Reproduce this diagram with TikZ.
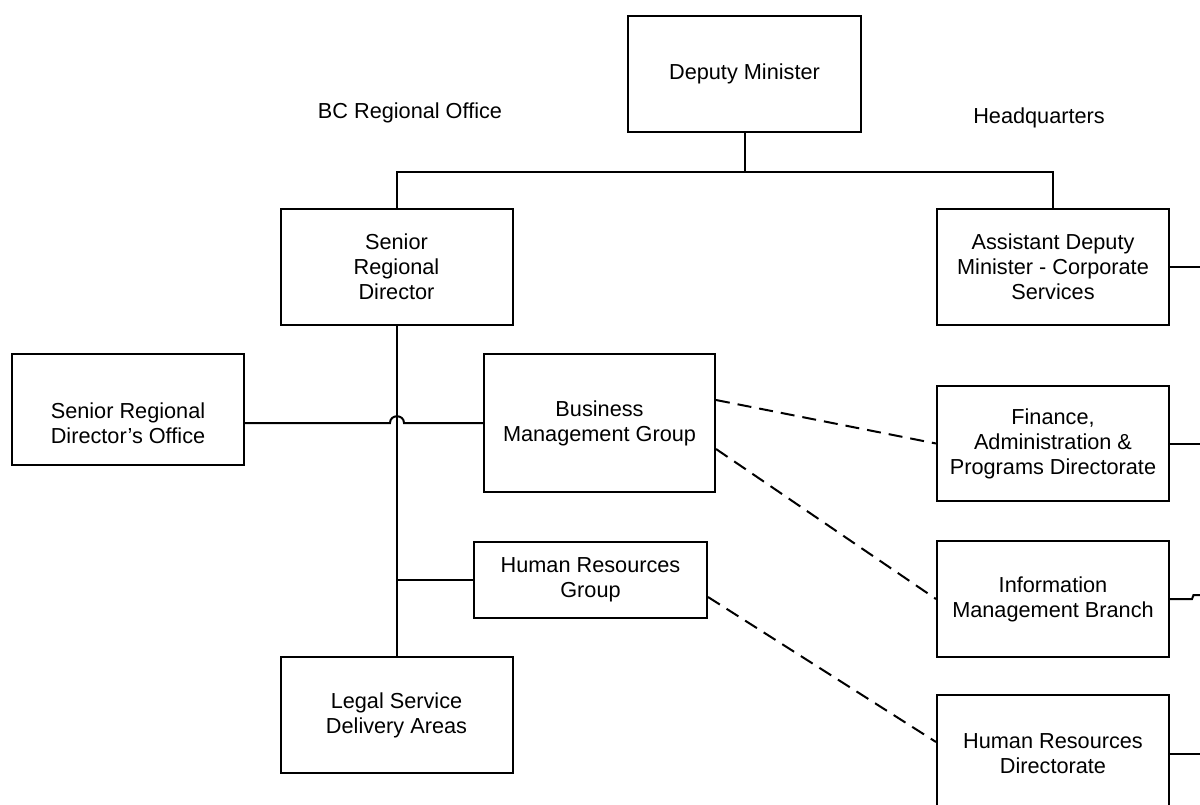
\documentclass[tikz,border=0pt]{standalone}
\usepackage{fontspec}
\setmainfont{Liberation Sans}
\newcommand\orgfont{\fontsize{21.7}{25}\selectfont}
\begin{document}
\begin{tikzpicture}[x=1pt,y=-1pt,line width=2pt,
		box/.style={draw, minimum width=232pt, minimum height=116pt, inner sep=0pt, align=center, font=\orgfont},
		dashline/.style={dash pattern=on 14pt off 8pt}]
		\useasboundingbox (0,0) rectangle (1200,805);
		% Headquarters
		\node[box, minimum width=233pt] (dm) at (744.5,74) {Deputy Minister};
		\node[box] (adm) at (1053,267) {Assistant Deputy\\Minister - Corporate\\Services};
		\node[box, minimum height=115pt] (fap) at (1053,443.5) {Finance,\\Administration \&\\Programs Directorate};
		\node[box] (imb) at (1053,599) {Information\\Management Branch};
		\node[box, minimum height=118pt] (hrd) at (1053,754) {Human Resources\\Directorate};
		% Regionalbuero
		\node[box] (srd) at (396.5,267) {Senior\\Regional\\Director};
		\node[box, minimum height=111pt] (sro) at (128,409.5) {};
		\node[font=\orgfont, align=center] (srotext) at (128,423) {Senior Regional\\Director’s Office};
		\node[box, minimum width=231pt, minimum height=138pt] (bmg) at (599.5,423) {Business\\Management Group};
		\node[box, minimum width=233pt, minimum height=76pt] (hrg) at (590.5,580) {Human Resources\\Group};
		\node[box] (lsda) at (396.5,715) {Legal Service\\Delivery Areas};
		% Beschriftungen
		\node[font=\orgfont] (bcro) at (410,113) {BC Regional Office};
		\node[font=\orgfont] (hq) at (1039,118) {Headquarters};
		% Linien
		\coordinate (bus) at (744,172);
		\coordinate (edge) at (1200,0);
		\draw (dm.south) -- (dm.south |- bus);
		\draw (srd.north) -- (srd.north |- bus) -- (adm.north |- bus) -- (adm.north);
		\draw (srd.south) -- (lsda.north);
		\draw (bmg.west) -- (404,423) .. controls (404,414) and (390,414) .. (390,423) -- (bmg.west -| sro.east);
		\draw (hrg.west) -- (hrg.west -| srd.south);
		\draw[dashline] ([yshift=23pt]bmg.east) -- (fap.west);
		\draw[dashline] ([yshift=-26pt]bmg.east) -- (imb.west);
		\draw[dashline] ([yshift=-17pt]hrg.east) -- ([yshift=12pt]hrd.west);
		\foreach \n in {adm, fap, hrd} {
			\draw (\n.east) -- (\n.east -| edge);
		}
		\draw (imb.east) -- (1192,599) -- (1193.5,595) -- (1200,595);
	\end{tikzpicture}
\end{document}
